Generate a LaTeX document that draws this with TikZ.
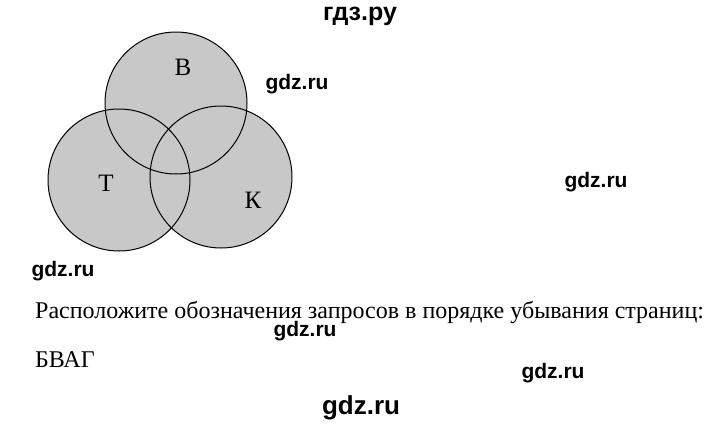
\documentclass[tikz,border=0pt]{standalone}
\usepackage{fontspec}
\setmainfont{Liberation Serif}
\newfontfamily\markfont{Liberation Sans}
\tikzset{
  label text/.style={font=\fontsize{25}{30}\selectfont, inner sep=0pt},
  plain text/.style={font=\fontsize{24}{28}\selectfont, inner sep=0pt, anchor=base west},
  water mark/.style={font=\markfont\bfseries\fontsize{21}{25}\selectfont, inner sep=0pt, anchor=base}
}
\definecolor{circfill}{RGB}{200,200,200}
\begin{document}
\begin{tikzpicture}[x=1pt, y=-1pt]
\useasboundingbox (0,0) rectangle (720,423);

%definitions
\def\topcirc{(176,103) circle [radius=71pt]}
%
\def\leftcirc{(119,180) circle [radius=71pt]}

\def\rightcirc{(221,177) circle [radius=71pt]}

%fills

\fill[circfill] \topcirc;
\fill[circfill] \leftcirc;
\fill[circfill] \rightcirc;

%shapes

\draw[line width=1pt] \topcirc;
\draw[line width=1pt] \leftcirc;
\draw[line width=1pt] \rightcirc;

\node[label text] (labB) at (183,67) {В};
\node[label text] (labT) at (106,183) {Т};
\node[label text] (labK) at (253,200) {К};

%texts

\node[plain text] (task) at (35,318) {Расположите обозначения запросов в порядке убывания страниц:};
\node[plain text] (answer) at (35,367) {БВАГ};

%watermarks

\node[water mark, font=\markfont\bfseries\fontsize{25}{30}\selectfont] (wmtop) at (360,20) {гдз.ру};
\node[water mark] (wmone) at (297,89) {gdz.ru};
\node[water mark] (wmtwo) at (596,187) {gdz.ru};
\node[water mark] (wmthree) at (63,276) {gdz.ru};
\node[water mark] (wmfour) at (305,336) {gdz.ru};
\node[water mark] (wmfive) at (553,378) {gdz.ru};
\node[water mark, font=\markfont\bfseries\fontsize{26}{30}\selectfont] (wmsix) at (361,414) {gdz.ru};
\end{tikzpicture}
\end{document}
